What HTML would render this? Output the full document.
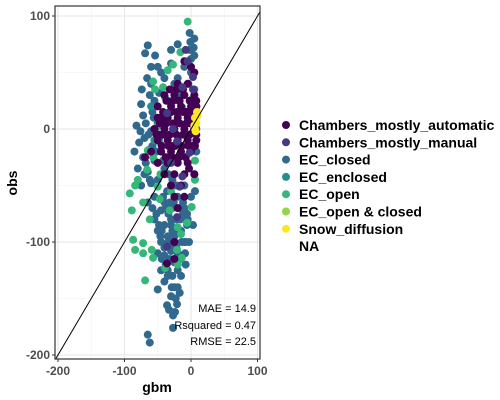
<!DOCTYPE html>
<html><head><meta charset="utf-8"><style>
body{margin:0;background:#fff;}
svg{display:block;font-family:"Liberation Sans",sans-serif;}
</style></head><body>
<svg id="chart" width="500" height="400">
<defs><clipPath id="clip"><rect x="55" y="6" width="205" height="353"/></clipPath></defs>
<rect x="0" y="0" width="500" height="400" fill="#fff"/>
<g id="grid"></g>
<g id="points" clip-path="url(#clip)"></g>
<g id="line" clip-path="url(#clip)"></g>
<rect x="55" y="6" width="205" height="353" fill="none" stroke="#333" stroke-width="1.2"/>
<g id="axes"></g>
<g font-size="11" fill="#000" text-anchor="end">
<text x="256" y="312">MAE = 14.9</text>
<text x="256" y="329">Rsquared = 0.47</text>
<text x="256" y="345">RMSE = 22.5</text>
</g>
<text x="157" y="392" text-anchor="middle" font-size="14" font-weight="bold">gbm</text>
<text x="17" y="183" text-anchor="middle" font-size="14" font-weight="bold" transform="rotate(-90 17 183)">obs</text>
<g id="legend"></g>
</svg>
<script>
const xTicks=[-200,-100,0,100];
const yTicks=[100,0,-100,-200];
const categories=["Chambers_mostly_automatic","Chambers_mostly_manual","EC_closed","EC_enclosed","EC_open","EC_open & closed","Snow_diffusion","NA"];
const colors=["#440154","#443A83","#31688E","#21908C","#35B779","#8FD744","#FDE725",null];
const blueX=[-1,-2,0,5,5,-65,-69,-54,-50,-45,-30,-40,-20,-60,-62,-55,-48,-75,-72,-58,-68,-82,-60,-70,-78,-62,-72,-55,-80,-65,-60,-75,-50,-55,-65,-45,-55,-40,-30,-35,-45,-25,-30,-40,-20,-35,-28,-40,-25,-30,-50,-36,-24,-27,-65,-62,-10,-5,0,5,8,8,8,5,-10,-15,-25,-20,-45,-50,-8,-40,-20,-10,-35,-25,-15,-50,-40,-70,-85,-45,-30,-20,0,-10,
-58,-52,-48,-44,-38,-34,-30,-26,-22,-18,-14,-42,-36,-32,-28,-24,-18,-12,-6,-46,-40,-34,-28,-22,-16,-50,-44,-38,-32,-26,-20,-35,-29,-23,-17,-33,-27,-21,-15,-9,-3,3,-66,-74,-64,-76,-58,-68,-52,-62,-2,4,-4,2,6,-8,-12,-6,-16,-22,-28,-34,-42,-48,-56,-60];
const blueY=[77,70,62,80,65,74,67,65,55,50,58,45,45,40,30,25,32,22,12,15,5,3,-2,-8,-12,-18,-25,-28,-35,-38,-48,-50,-45,-60,-65,-72,-80,-85,-80,-95,-100,-95,-108,-112,-110,-125,-130,-135,-140,-148,-142,-156,-162,-176,-182,-189,-100,-80,-60,-40,-20,0,20,35,-70,-90,-118,-140,-125,-110,-120,-65,-60,-50,25,40,30,5,-35,-40,-20,-20,70,75,50,55,
-70,-75,-85,-90,-70,-75,-85,-65,-80,-90,-100,-60,-55,-65,-70,-60,-70,-75,-85,-95,-105,-100,-90,-105,-115,-90,-115,-120,-115,-105,-125,-130,-140,-150,-145,-160,-165,-155,-130,-110,-100,-85,45,35,-5,-2,-15,-30,-20,-45,85,72,40,25,-55,-100,-65,-75,-80,-50,-45,-40,-28,-8,10,55];
const greenX=[-5,-16,-35,-57,-42,-27,1,-92,-89,-84,-72,-87,-84,-72,-72,-59,-57,-69,-39,-20,-14,-21,-15,-20,-57,-66,-47,-50,-47,-32,6,6,1,-6,-39,-54,-13,-51,-65,-46,-30,-62,-80];
const greenY=[95,68,52,42,37,57,26,-57,-72,-50,-65,-98,-107,-101,-110,-107,-114,-134,-123,-120,-114,-107,-93,-87,-25,-36,-12,-51,-62,-72,-45,-28,-69,-83,28,35,19,2,-19,-40,-55,-80,-45];
const tealX=[-40,-55,-30,-60];
const tealY=[-5,-10,-50,20];
const manualX=[-13,3,-36,-21,-17,-21,-36,-2,-13,3,-27,-5,-8,-30];
const manualY=[37,46,14,-11,-51,-78,-104,-21,-42,35,0,60,70,-30];
const autoX=[-20,-5,-40,-25,-10,5,-50,-30,-15,0,8,-45,-35,-20,-5,5,-55,-40,-25,-10,5,-50,-35,-20,-5,8,-60,-45,-30,-15,0,-50,-35,-20,-5,-40,-25,-10,5,-30,-15,-25,-10,-20,-25,-25,-36,-10,0,5,-50,-69,-30,-12,-42,-3,-28,-18,-8,2,-48,-38,
-32,-22,-12,-2,8,-37,-27,-17,-7,3,-42,-32,-22,-12,-2,-47,-37,-27,-17,-7,3,-52,-42,-32,-22,-12,-2,8,-44,-34,-24,-14,-4,6,-38,-28,-18,-8];
const autoY=[40,40,30,30,30,30,20,20,20,20,20,10,10,10,10,10,0,0,0,0,0,-10,-10,-10,-10,-10,-20,-20,-20,-20,-20,-30,-30,-30,-30,-40,-40,-40,-40,-50,-50,-60,-60,-70,-100,-115,-119,60,55,50,10,-25,15,-5,5,-35,-15,25,15,-15,-5,-25,
35,35,35,25,25,25,25,25,15,15,15,15,15,15,5,5,5,5,5,5,5,-5,-5,-5,-5,-5,-5,-5,-15,-15,-15,-15,-15,-15,-25,-25,-25,-25];
const snowX=[6,8,6,10,7,9,5];
const snowY=[10,5,0,12,-2,15,3];
const NS="http://www.w3.org/2000/svg";
function sx(v){return 191+v*0.665;}
function sy(v){return 129-v*1.13;}
function mk(tag,attrs,parent){const e=document.createElementNS(NS,tag);for(const k in attrs)e.setAttribute(k,attrs[k]);parent.appendChild(e);return e;}
const grid=document.getElementById('grid');
[-150,-50,50].forEach(v=>{const l=mk('line',{x1:sx(v),x2:sx(v),y1:6,y2:359,stroke:'#f2f2f2','stroke-width':0.6},grid);

});
[50,-50,-150].forEach(v=>{const l=mk('line',{x1:55,x2:260,y1:sy(v),y2:sy(v),stroke:'#f2f2f2','stroke-width':0.6},grid);

});
xTicks.forEach(v=>{const l=mk('line',{x1:sx(v),x2:sx(v),y1:6,y2:359,stroke:'#e6e6e6','stroke-width':1},grid);

});
yTicks.forEach(v=>{const l=mk('line',{x1:55,x2:260,y1:sy(v),y2:sy(v),stroke:'#e6e6e6','stroke-width':1},grid);

});
const axes=document.getElementById('axes');
xTicks.forEach(v=>{mk('line',{x1:sx(v),x2:sx(v),y1:359,y2:362,stroke:'#333'},axes);
const t=mk('text',{x:sx(v),y:375,'text-anchor':'middle','font-size':12,'font-weight':'bold',fill:'#4d4d4d'},axes);t.textContent=v;

});
yTicks.forEach(v=>{mk('line',{x1:52,x2:55,y1:sy(v),y2:sy(v),stroke:'#333'},axes);
const t=mk('text',{x:50,y:sy(v)+4,'text-anchor':'end','font-size':12,'font-weight':'bold',fill:'#4d4d4d'},axes);t.textContent=v;

});
const pts=document.getElementById('points');
function draw(xs,ys,col,name){xs.forEach((x,i)=>{const c=mk('circle',{cx:sx(x),cy:sy(ys[i]),r:4,fill:col},pts);

});}
draw(blueX,blueY,colors[2],'point-ec-closed');
draw(greenX,greenY,colors[4],'point-ec-open');
draw(tealX,tealY,colors[3],'point-ec-enclosed');
draw(autoX,autoY,colors[0],'point-chambers-automatic');
draw(manualX,manualY,colors[1],'point-chambers-manual');
draw(snowX,snowY,colors[6],'point-snow-diffusion');
const ln=mk('line',{x1:sx(-210),y1:sy(-210),x2:sx(120),y2:sy(120),stroke:'#000','stroke-width':1},document.getElementById('line'));


const lg=document.getElementById('legend');
categories.forEach((c,i)=>{const y=125+i*17.3;
if(colors[i]){const d=mk('circle',{cx:286,cy:y,r:4,fill:colors[i]},lg);

}
const t=mk('text',{x:299,y:y+5,'font-size':14,'font-weight':'bold',fill:'#000'},lg);t.textContent=c;

});
</script>
</body></html>
